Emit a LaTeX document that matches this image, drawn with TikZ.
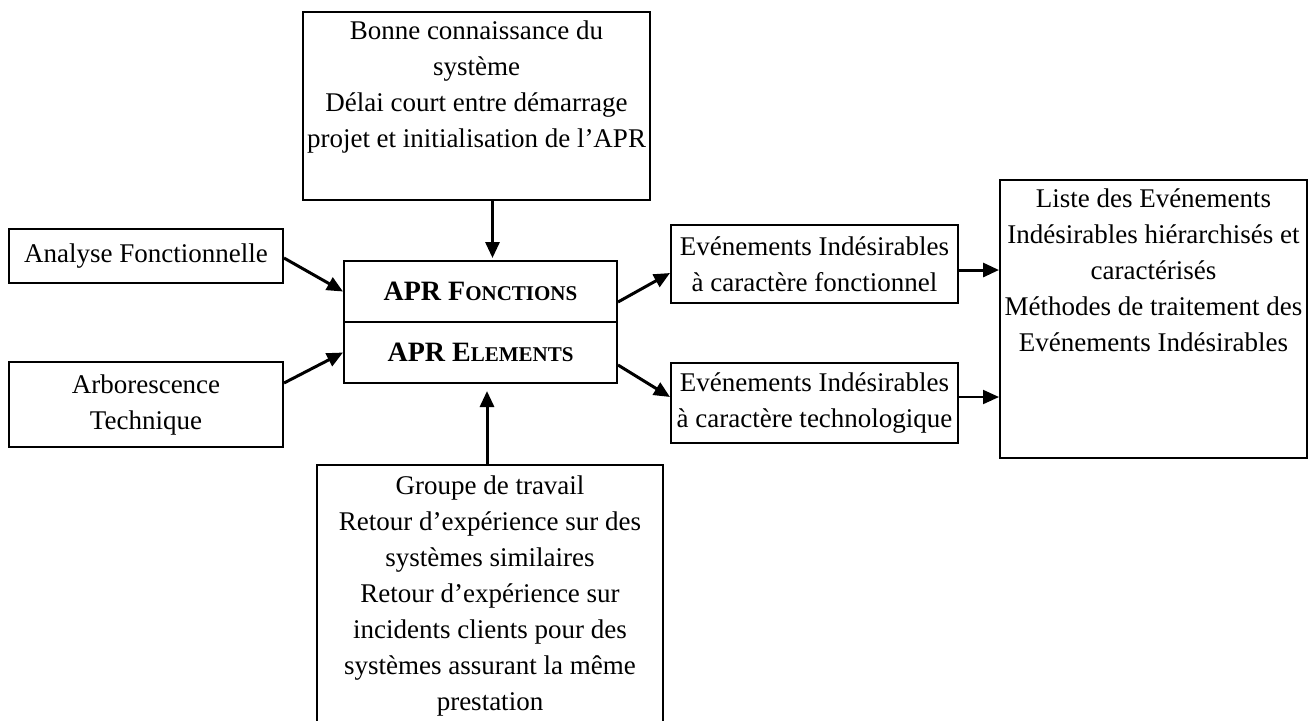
\documentclass[tikz,border=0pt]{standalone}
\usepackage{fontspec}
\setmainfont{Liberation Serif}
\usetikzlibrary{arrows.meta,calc}
\newcommand{\smcap}[1]{{\fontsize{10.5pt}{10.5pt}\selectfont #1}}
\begin{document}
\begin{tikzpicture}[x=0.5pt,y=-0.5pt,
  box/.style={draw=black,line width=1pt,inner sep=0pt,fill=none},
  txt/.style={inner sep=0pt,align=center,font=\fontsize{13.5pt}{18pt}\selectfont},
  bold/.style={inner sep=0pt,align=center,font=\fontsize{14pt}{16pt}\selectfont\bfseries},
  arr/.style={line width=1.5pt,-{Triangle[length=8pt,width=7pt]}},
  arrthin/.style={line width=1pt,-{Triangle[length=8pt,width=7pt]}}]
\useasboundingbox[fill=white] (0,0) rectangle (1312,720);
\begin{scope}
\clip (0,0) rectangle (1312,720);
% boxes
\node[box,minimum width=173.5pt,minimum height=94pt] (top) at (476.5,106) {};
\node[box,minimum width=137pt,minimum height=27pt,txt] (analyse) at (146,256) {Analyse Fonctionnelle};
\node[box,minimum width=137pt,minimum height=42.5pt,txt] (arbo) at (146,404.5) {Arborescence\\Technique};
\node[box,minimum width=136.5pt,minimum height=30.5pt,bold] (fonc) at (480.5,291.5) {APR F\smcap{ONCTIONS}};
\node[box,minimum width=136.5pt,minimum height=30.5pt,bold] (elem) at (480.5,352.5) {APR E\smcap{LEMENTS}};
\node[box,minimum width=173pt,minimum height=137.5pt] (bottom) at (490,602.5) {};
\node[box,minimum width=143.5pt,minimum height=39pt,txt] (EIf) at (814.5,264) {Evénements Indésirables\\à caractère fonctionnel};
\node[box,minimum width=143.5pt,minimum height=40pt,txt] (EIt) at (814.5,403) {Evénements Indésirables\\à caractère technologique};
\node[box,minimum width=153.5pt,minimum height=139pt] (right) at (1153.5,319) {};
% texts in tall boxes
\node[txt,anchor=north] (toptxt) at ([yshift=-4.5pt]top.north) {Bonne connaissance du\\système\\Délai court entre démarrage\\projet et initialisation de l’APR};
\node[txt,anchor=north] (bottomtxt) at ([yshift=-5.5pt]bottom.north) {Groupe de travail\\Retour d’expérience sur des\\systèmes similaires\\Retour d’expérience sur\\incidents clients pour des\\systèmes assurant la même\\prestation};
\node[txt,anchor=north] (righttxt) at ([yshift=-4.5pt]right.north) {Liste des Evénements\\Indésirables hiérarchisés et\\caractérisés\\Méthodes de traitement des\\Evénements Indésirables};
% connectors
\draw[arr,shorten >=1pt] ([xshift=8pt]top.south) -- ([xshift=6pt]fonc.north);
\draw[arr,shorten >=3.5pt] ([xshift=-1.5pt]bottom.north) -- ([xshift=3.25pt]elem.south);
\draw[arr] ([yshift=-1pt]analyse.east) -- (fonc.west);
\draw[arr] ([yshift=10.75pt]arbo.east) -- (elem.west);
\draw[arr] ([yshift=-5.25pt]fonc.east) -- ([yshift=-4.5pt]EIf.west);
\draw[arr] ([yshift=-6.25pt]elem.east) -- ([yshift=3pt]EIt.west);
\coordinate (a1) at ([yshift=-3pt]EIf.east);
\coordinate (a2) at ([yshift=3pt]EIt.east);
\draw[arr] (a1) -- (a1 -| right.west);
\draw[arrthin] (a2) -- (a2 -| right.west);
\end{scope}
\end{tikzpicture}
\end{document}
